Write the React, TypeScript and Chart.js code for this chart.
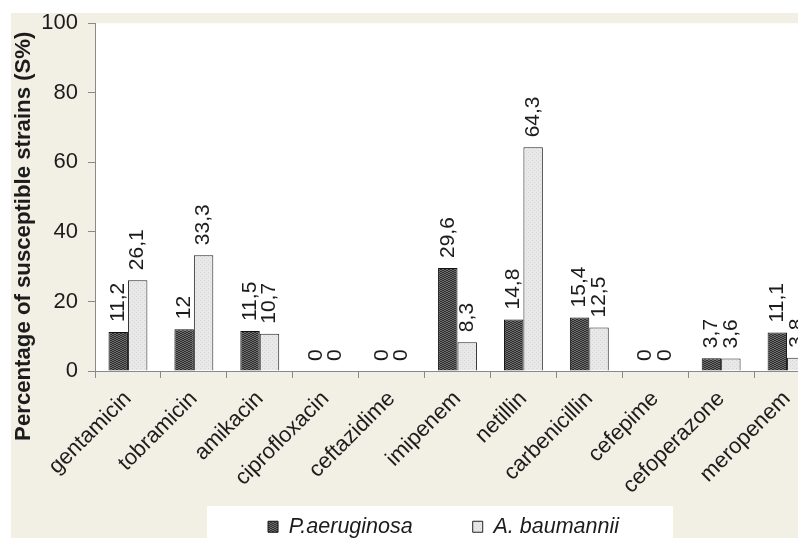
import React, { useEffect, useRef } from "react";
import { Chart, registerables } from "chart.js";

Chart.register(...registerables);

const categories = [
  "gentamicin",
  "tobramicin",
  "amikacin",
  "ciprofloxacin",
  "ceftazidime",
  "imipenem",
  "netillin",
  "carbenicillin",
  "cefepime",
  "cefoperazone",
  "meropenem",
];
const seriesNames = ["P.aeruginosa", "A. baumannii"];
const pAeruginosa = [11.2, 12, 11.5, 0, 0, 29.6, 14.8, 15.4, 0, 3.7, 11.1];
const aBaumannii = [26.1, 33.3, 10.7, 0, 0, 8.3, 64.3, 12.5, 0, 3.6, 3.8];
const yTicks = [0, 20, 40, 60, 80, 100];
const yAxisTitle = "Percentage of susceptible strains (S%)";

const FONT = '"Liberation Sans", Arial, sans-serif';
const BEIGE = "#F2EFE4";
const TEXT = "#1c1c1c";
const AXIS = "#8a8a8a";

function makePattern(kind: "dark" | "light"): CanvasPattern | string {
  const c = document.createElement("canvas");
  c.width = 4;
  c.height = 4;
  const g = c.getContext("2d");
  if (!g) return kind === "dark" ? "#444" : "#e6e6e6";
  if (kind === "dark") {
    g.fillStyle = "#2e2e2e";
    g.fillRect(0, 0, 4, 4);
    g.fillStyle = "#6e6e6e";
    g.fillRect(0, 0, 2, 1);
    g.fillRect(2, 1, 2, 1);
    g.fillRect(0, 2, 2, 1);
    g.fillRect(2, 3, 2, 1);
  } else {
    g.fillStyle = "#e8e8e8";
    g.fillRect(0, 0, 4, 4);
    g.fillStyle = "#d6d6d6";
    g.fillRect(0, 0, 1, 1);
    g.fillRect(2, 2, 1, 1);
  }
  const p = g.createPattern(c, "repeat");
  return p || (kind === "dark" ? "#444" : "#e6e6e6");
}

const fmt = (v: number) => String(v).replace(".", ",");

export default function App() {
  const ref = useRef<HTMLCanvasElement | null>(null);

  useEffect(() => {
    if (!ref.current) return;
    const dark = makePattern("dark");
    const light = makePattern("light");

    const bgPlugin = {
      id: "bgPlugin",
      afterLayout(chart: any) {
        const lg = chart.legend;
        if (lg) {
          lg.left -= 14;
          lg.right -= 14;
          const top = chart.height - 82;
          lg.top = top;
          lg.bottom = chart.height;
        }
      },
      beforeDraw(chart: any) {
        const { ctx, width, height, chartArea } = chart;
        ctx.save();
        ctx.fillStyle = "#ffffff";
        ctx.fillRect(0, 0, width, height);
        ctx.fillStyle = BEIGE;
        ctx.fillRect(11, 13, width - 11, height - 13);
        ctx.fillStyle = "#ffffff";
        ctx.fillRect(
          chartArea.left,
          chartArea.top,
          width - chartArea.left,
          chartArea.bottom - chartArea.top
        );
        const hb = chart.legend && chart.legend.legendHitBoxes;
        if (hb && hb.length) {
          const last = hb[hb.length - 1];
          const l = hb[0].left - 61;
          const r = last.left + last.width + 54;
          const t = hb[0].top - 10;
          ctx.fillRect(l, t, r - l, height - t);
        }
        ctx.restore();
      },
      afterDatasetsDraw(chart: any) {
        const { ctx } = chart;
        ctx.save();
        ctx.font = `21px ${FONT}`;
        ctx.fillStyle = TEXT;
        ctx.textAlign = "left";
        ctx.textBaseline = "middle";
        chart.data.datasets.forEach((ds: any, di: number) => {
          const meta = chart.getDatasetMeta(di);
          meta.data.forEach((bar: any, i: number) => {
            const v = ds.data[i];
            ctx.save();
            ctx.translate(bar.x, bar.y - 10);
            ctx.rotate(-Math.PI / 2);
            ctx.fillText(fmt(v), 0, 0);
            ctx.restore();
          });
        });
        ctx.restore();
      },
      afterDraw(chart: any) {
        const { ctx, chartArea } = chart;
        ctx.save();
        ctx.font = `bold 22.2px ${FONT}`;
        ctx.fillStyle = TEXT;
        ctx.textAlign = "center";
        ctx.textBaseline = "alphabetic";
        ctx.translate(30, chartArea.top + 213);
        ctx.rotate(-Math.PI / 2);
        ctx.fillText(yAxisTitle, 0, 0);
        ctx.restore();
      },
    };

    const chart = new Chart(ref.current, {
      type: "bar",
      data: {
        labels: categories,
        datasets: [
          {
            label: seriesNames[0],
            data: pAeruginosa,
            backgroundColor: dark as any,
            borderColor: "#111111",
            borderWidth: 1,
            categoryPercentage: 0.59,
            barPercentage: 1,
          },
          {
            label: seriesNames[1],
            data: aBaumannii,
            backgroundColor: light as any,
            borderColor: "#222222",
            borderWidth: 1,
            categoryPercentage: 0.59,
            barPercentage: 1,
          },
        ],
      },
      options: {
        responsive: false,
        animation: false,
        devicePixelRatio: 1,
        layout: { padding: { left: 0, right: 10, top: 23, bottom: 0 } },
        plugins: {
          legend: {
            display: true,
            position: "bottom",
            fullSize: false,
            maxHeight: 37,
            labels: {
              boxWidth: 10,
              boxHeight: 11,
              padding: 60,
              color: TEXT,
              font: { family: FONT, size: 21.5, style: "italic" },
            },
          },
          tooltip: { enabled: false },
        },
        scales: {
          x: {
            afterFit: (s: any) => {
              s.height = 130;
            },
            grid: {
              display: true,
              drawOnChartArea: false,
              drawTicks: true,
              tickLength: 7,
              color: AXIS,
              offset: true,
            },
            border: { display: true, color: AXIS, width: 1 },
            ticks: {
              autoSkip: false,
              minRotation: 45,
              maxRotation: 45,
              padding: 8,
              labelOffset: 0,
              color: TEXT,
              font: { family: FONT, size: 22 },
            },
          },
          y: {
            min: 0,
            max: 100,
            afterFit: (s: any) => {
              s.width = 95;
            },
            afterBuildTicks: (s: any) => {
              s.ticks = yTicks.map((v) => ({ value: v }));
            },
            grid: {
              display: true,
              drawOnChartArea: false,
              drawTicks: true,
              tickLength: 7,
              color: AXIS,
            },
            border: { display: true, color: AXIS, width: 1 },
            ticks: {
              padding: 10,
              color: TEXT,
              font: { family: FONT, size: 22 },
            },
          },
        },
      },
      plugins: [bgPlugin],
    });

    return () => chart.destroy();
  }, []);

  return (
    <div
      style={{
        position: "fixed",
        left: 0,
        top: 0,
        width: 798,
        height: 538,
        overflow: "hidden",
        background: "#ffffff",
      }}
    >
      <canvas ref={ref} width={830} height={538} style={{ display: "block" }} />
    </div>
  );
}
